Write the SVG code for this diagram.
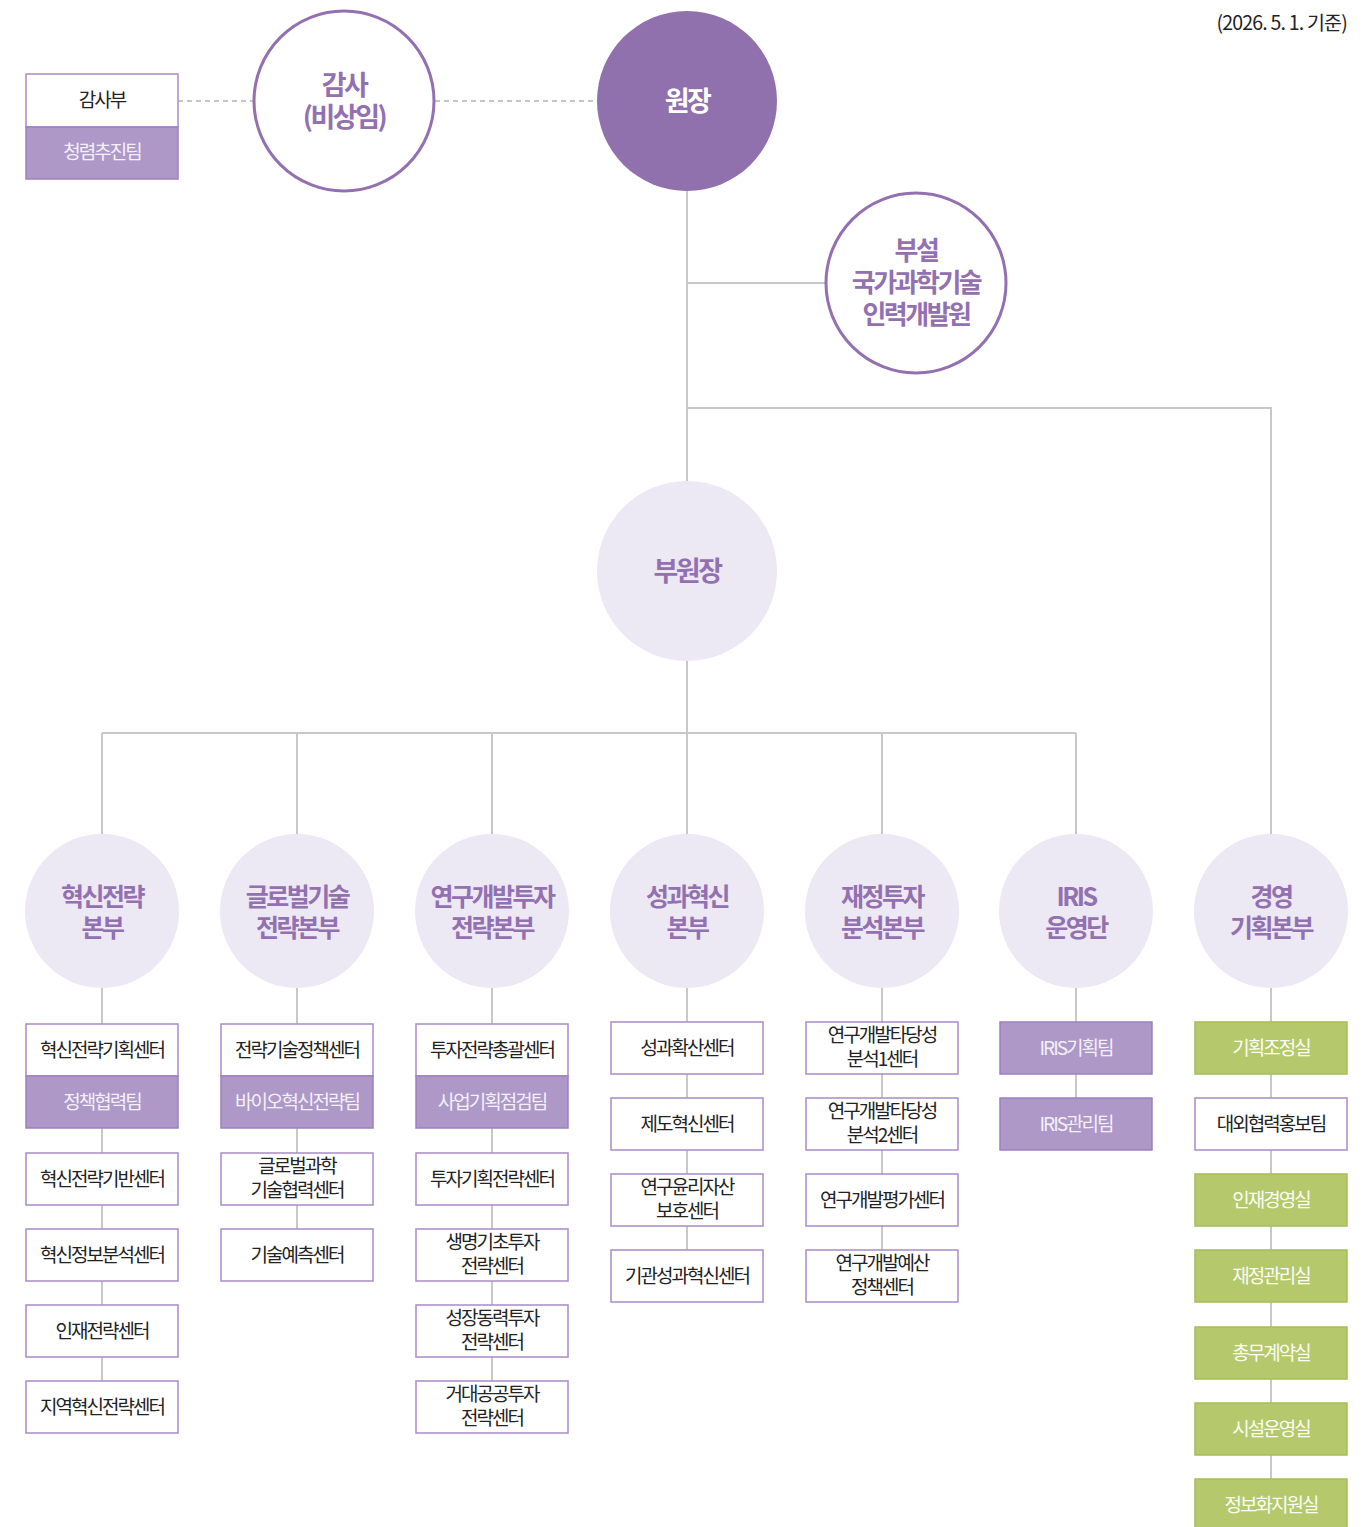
<svg xmlns="http://www.w3.org/2000/svg" width="1366" height="1527" viewBox="0 0 1366 1527">
<style>
text{font-family:"Noto Sans CJK KR","Noto Sans",sans-serif;text-anchor:middle}
.ln{stroke:#c8c8c8;stroke-width:2;fill:none}
.dash{stroke:#b4b4b4;stroke-width:1.5;stroke-dasharray:5 4;fill:none}
.cw{fill:#fff;stroke:#9370b0;stroke-width:3}
.cl{fill:#ece8f4}
.ct{fill:#9370b0;font-weight:700;font-size:25px;letter-spacing:-2.5px}
.bw{fill:#fff;stroke:#a98bc8;stroke-width:1.5}
.bp{fill:#ad98c8;stroke:#9d80c0;stroke-width:1.5}
.bg{fill:#b5c96c;stroke:#a5bd58;stroke-width:1.5}
.tw{fill:#222;font-size:19px;letter-spacing:-2px}
.tl{fill:#f4f0f8;font-size:19px;letter-spacing:-2px}
.tg{fill:#fbfdf4;font-size:19px;letter-spacing:-2px}
</style>
<text x="1347" y="30" style="text-anchor:end;font-size:19.5px;fill:#222;letter-spacing:-0.8px">(2026. 5. 1. 기준)</text>
<g id="connectors">
<path class="dash" d="M178 101H254M435 101H597"/>
<path class="ln" d="M687 191V834M687 283H826M687 408H1271V834M102 733H1076M102 733V834M297 733V834M492 733V834M882 733V834M1076 733V834"/>
<path class="ln" d="M102 988V1381M297 988V1229M492 988V1381M687 988V1250M882 988V1250M1076 988V1098M1271 988V1479"/>
</g>
<g id="audit-dept"><rect class="bw" x="26" y="74" width="152" height="53"/><text class="tw" x="102" y="107">감사부</text></g>
<g id="integrity-team"><rect class="bp" x="26" y="127" width="152" height="52"/><text class="tl" x="102" y="159">청렴추진팀</text></g>
<g id="auditor"><circle class="cw" cx="344" cy="101" r="90"/><text class="ct" x="344" y="95" style="font-size:27px">감사<tspan x="344" dy="32">(비상임)</tspan></text></g>
<g id="president"><circle cx="687" cy="101" r="90" fill="#9170ae"/><text class="ct" x="687" y="111" style="fill:#fff;font-size:27px">원장</text></g>
<g id="kird"><circle class="cw" cx="916" cy="283" r="90"/><text class="ct" x="916" y="260" style="font-size:26px">부설<tspan x="916" dy="32">국가과학기술</tspan><tspan x="916" dy="32">인력개발원</tspan></text></g>
<g id="vice-president"><circle class="cl" cx="687" cy="571" r="90"/><text class="ct" x="687" y="581" style="font-size:27px">부원장</text></g>
<g id="hq1"><circle class="cl" cx="102" cy="911" r="77"/><text class="ct" x="102" y="906">혁신전략<tspan x="102" dy="31">본부</tspan></text></g>
<g id="hq2"><circle class="cl" cx="297" cy="911" r="77"/><text class="ct" x="297" y="906">글로벌기술<tspan x="297" dy="31">전략본부</tspan></text></g>
<g id="hq3"><circle class="cl" cx="492" cy="911" r="77"/><text class="ct" x="492" y="906">연구개발투자<tspan x="492" dy="31">전략본부</tspan></text></g>
<g id="hq4"><circle class="cl" cx="687" cy="911" r="77"/><text class="ct" x="687" y="906">성과혁신<tspan x="687" dy="31">본부</tspan></text></g>
<g id="hq5"><circle class="cl" cx="882" cy="911" r="77"/><text class="ct" x="882" y="906">재정투자<tspan x="882" dy="31">분석본부</tspan></text></g>
<g id="hq6"><circle class="cl" cx="1076" cy="911" r="77"/><text class="ct" x="1076" y="906">IRIS<tspan x="1076" dy="31">운영단</tspan></text></g>
<g id="hq7"><circle class="cl" cx="1271" cy="911" r="77"/><text class="ct" x="1271" y="906">경영<tspan x="1271" dy="31">기획본부</tspan></text></g>

<g id="c1-1"><rect class="bw" x="26" y="1024" width="152" height="52"/><text class="tw" x="102" y="1057">혁신전략기획센터</text></g>
<g id="c1-2"><rect class="bp" x="26" y="1076" width="152" height="52"/><text class="tl" x="102" y="1109">정책협력팀</text></g>
<g id="c1-3"><rect class="bw" x="26" y="1153" width="152" height="52"/><text class="tw" x="102" y="1186">혁신전략기반센터</text></g>
<g id="c1-4"><rect class="bw" x="26" y="1229" width="152" height="52"/><text class="tw" x="102" y="1262">혁신정보분석센터</text></g>
<g id="c1-5"><rect class="bw" x="26" y="1305" width="152" height="52"/><text class="tw" x="102" y="1338">인재전략센터</text></g>
<g id="c1-6"><rect class="bw" x="26" y="1381" width="152" height="52"/><text class="tw" x="102" y="1414">지역혁신전략센터</text></g>

<g id="c2-1"><rect class="bw" x="221" y="1024" width="152" height="52"/><text class="tw" x="297" y="1057">전략기술정책센터</text></g>
<g id="c2-2"><rect class="bp" x="221" y="1076" width="152" height="52"/><text class="tl" x="297" y="1109">바이오혁신전략팀</text></g>
<g id="c2-3"><rect class="bw" x="221" y="1153" width="152" height="52"/><text class="tw" x="297" y="1173">글로벌과학<tspan x="297" dy="24">기술협력센터</tspan></text></g>
<g id="c2-4"><rect class="bw" x="221" y="1229" width="152" height="52"/><text class="tw" x="297" y="1262">기술예측센터</text></g>

<g id="c3-1"><rect class="bw" x="416" y="1024" width="152" height="52"/><text class="tw" x="492" y="1057">투자전략총괄센터</text></g>
<g id="c3-2"><rect class="bp" x="416" y="1076" width="152" height="52"/><text class="tl" x="492" y="1109">사업기획점검팀</text></g>
<g id="c3-3"><rect class="bw" x="416" y="1153" width="152" height="52"/><text class="tw" x="492" y="1186">투자기획전략센터</text></g>
<g id="c3-4"><rect class="bw" x="416" y="1229" width="152" height="52"/><text class="tw" x="492" y="1249">생명기초투자<tspan x="492" dy="24">전략센터</tspan></text></g>
<g id="c3-5"><rect class="bw" x="416" y="1305" width="152" height="52"/><text class="tw" x="492" y="1325">성장동력투자<tspan x="492" dy="24">전략센터</tspan></text></g>
<g id="c3-6"><rect class="bw" x="416" y="1381" width="152" height="52"/><text class="tw" x="492" y="1401">거대공공투자<tspan x="492" dy="24">전략센터</tspan></text></g>

<g id="c4-1"><rect class="bw" x="611" y="1022" width="152" height="52"/><text class="tw" x="687" y="1055">성과확산센터</text></g>
<g id="c4-2"><rect class="bw" x="611" y="1098" width="152" height="52"/><text class="tw" x="687" y="1131">제도혁신센터</text></g>
<g id="c4-3"><rect class="bw" x="611" y="1174" width="152" height="52"/><text class="tw" x="687" y="1194">연구윤리자산<tspan x="687" dy="24">보호센터</tspan></text></g>
<g id="c4-4"><rect class="bw" x="611" y="1250" width="152" height="52"/><text class="tw" x="687" y="1283">기관성과혁신센터</text></g>

<g id="c5-1"><rect class="bw" x="806" y="1022" width="152" height="52"/><text class="tw" x="882" y="1042">연구개발타당성<tspan x="882" dy="24">분석1센터</tspan></text></g>
<g id="c5-2"><rect class="bw" x="806" y="1098" width="152" height="52"/><text class="tw" x="882" y="1118">연구개발타당성<tspan x="882" dy="24">분석2센터</tspan></text></g>
<g id="c5-3"><rect class="bw" x="806" y="1174" width="152" height="52"/><text class="tw" x="882" y="1207">연구개발평가센터</text></g>
<g id="c5-4"><rect class="bw" x="806" y="1250" width="152" height="52"/><text class="tw" x="882" y="1270">연구개발예산<tspan x="882" dy="24">정책센터</tspan></text></g>

<g id="c6-1"><rect class="bp" x="1000" y="1022" width="152" height="52"/><text class="tl" x="1076" y="1055">IRIS기획팀</text></g>
<g id="c6-2"><rect class="bp" x="1000" y="1098" width="152" height="52"/><text class="tl" x="1076" y="1131">IRIS관리팀</text></g>

<g id="c7-1"><rect class="bg" x="1195" y="1022" width="152" height="52"/><text class="tg" x="1271" y="1055">기획조정실</text></g>
<g id="c7-2"><rect class="bw" x="1195" y="1098" width="152" height="52"/><text class="tw" x="1271" y="1131">대외협력홍보팀</text></g>
<g id="c7-3"><rect class="bg" x="1195" y="1174" width="152" height="52"/><text class="tg" x="1271" y="1207">인재경영실</text></g>
<g id="c7-4"><rect class="bg" x="1195" y="1250" width="152" height="52"/><text class="tg" x="1271" y="1283">재정관리실</text></g>
<g id="c7-5"><rect class="bg" x="1195" y="1327" width="152" height="52"/><text class="tg" x="1271" y="1360">총무계약실</text></g>
<g id="c7-6"><rect class="bg" x="1195" y="1403" width="152" height="52"/><text class="tg" x="1271" y="1436">시설운영실</text></g>
<g id="c7-7"><rect class="bg" x="1195" y="1479" width="152" height="52"/><text class="tg" x="1271" y="1512">정보화지원실</text></g>
</svg>
